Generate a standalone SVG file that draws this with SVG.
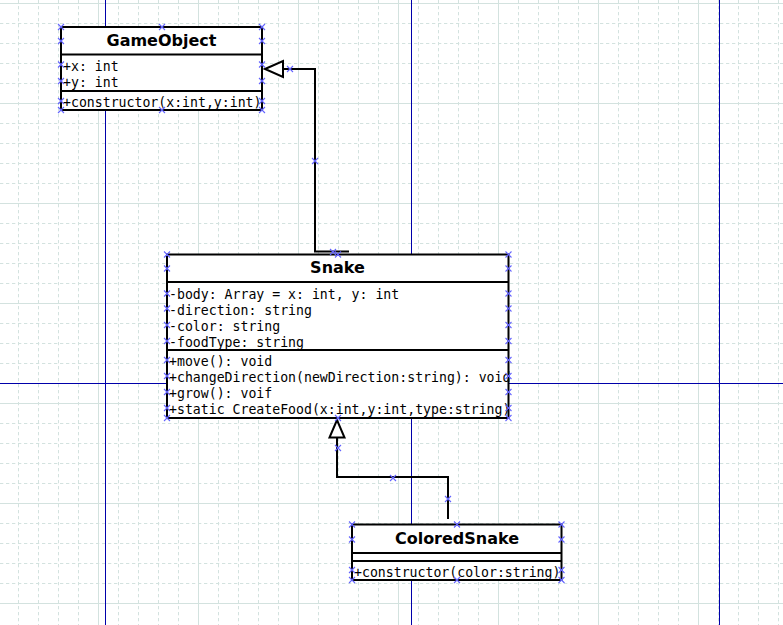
<svg xmlns="http://www.w3.org/2000/svg" xmlns:xlink="http://www.w3.org/1999/xlink" width="783" height="625" viewBox="0 0 783 625">
<style>
.minor{stroke:#d3e2df;stroke-width:1;stroke-dasharray:3.3 2.7;fill:none}
.major{stroke:#d3e2df;stroke-width:1;fill:none}
.axis{stroke:#0000aa;stroke-width:1;fill:none}
.box{fill:#ffffff;stroke:#000000;stroke-width:2}
.sep{stroke:#000000;stroke-width:2;fill:none}
.title{font-family:"DejaVu Sans","Liberation Sans",sans-serif;font-weight:bold;font-size:16px;fill:#000000;text-anchor:middle}
.mem{font-family:"DejaVu Sans Mono","Liberation Mono",monospace;font-size:13.2px;fill:#000000}
.edge{stroke:#000000;stroke-width:2;fill:none}
.head{fill:#ffffff;stroke:#000000;stroke-width:2;stroke-linejoin:miter}
.mk{stroke:#6464ff;stroke-width:1.1;fill:none}
</style>
<defs>
<path id="mk" class="mk" d="M-3,-3L3,3M-3,3L3,-3"/>
</defs>
<rect x="0" y="0" width="783" height="625" fill="#ffffff"/>
<g id="grid">
<path class="minor" d="M18.5,0V625M38.5,0V625M58.5,0V625M78.5,0V625M118.5,0V625M138.5,0V625M158.5,0V625M178.5,0V625M218.5,0V625M238.5,0V625M258.5,0V625M278.5,0V625M318.5,0V625M338.5,0V625M358.5,0V625M378.5,0V625M418.5,0V625M438.5,0V625M458.5,0V625M478.5,0V625M518.5,0V625M538.5,0V625M558.5,0V625M578.5,0V625M618.5,0V625M638.5,0V625M658.5,0V625M678.5,0V625M718.5,0V625M738.5,0V625M758.5,0V625M778.5,0V625"/>
<path class="minor" d="M0,23.5H783M0,43.5H783M0,63.5H783M0,83.5H783M0,123.5H783M0,143.5H783M0,163.5H783M0,183.5H783M0,223.5H783M0,243.5H783M0,263.5H783M0,283.5H783M0,323.5H783M0,343.5H783M0,363.5H783M0,383.5H783M0,423.5H783M0,443.5H783M0,463.5H783M0,483.5H783M0,523.5H783M0,543.5H783M0,563.5H783M0,583.5H783"/>
<path class="major" d="M98.5,0V625M198.5,0V625M298.5,0V625M398.5,0V625M498.5,0V625M598.5,0V625M698.5,0V625M0,3.5H783M0,103.5H783M0,203.5H783M0,303.5H783M0,403.5H783M0,503.5H783M0,603.5H783"/>
<path class="axis" d="M105.5,0V625M411.5,0V625M719.5,0V625M0,383.5H783"/>
</g>
<g id="connectors">
<path class="edge" d="M349,251.5H315V69H283"/>
<path class="head" d="M265,69L283,61L283,77Z"/>
<path class="edge" d="M448,519V477H337V437.5"/>
<path class="head" d="M337,420L329.5,437.5L344.5,437.5Z"/>
</g>
<g id="GameObject">
<rect class="box" x="61" y="27" width="201" height="83"/>
<path class="sep" d="M61,54.5H262M61,91H262"/>
<text class="title" x="161.5" y="46">GameObject</text>
<text class="mem" x="63" y="71">+x: int</text>
<text class="mem" x="63" y="87">+y: int</text>
<text class="mem" x="63" y="107">+constructor(x:int,y:int)</text>
</g>
<g id="Snake">
<rect class="box" x="167" y="254.5" width="341.5" height="163.5"/>
<path class="sep" d="M167,282H508.5M167,350H508.5"/>
<text class="title" x="337.5" y="273">Snake</text>
<text class="mem" x="169" y="298.5">-body: Array = x: int, y: int</text>
<text class="mem" x="169" y="314.5">-direction: string</text>
<text class="mem" x="169" y="330.5">-color: string</text>
<text class="mem" x="169" y="346.5">-foodType: string</text>
<text class="mem" x="169" y="366">+move(): void</text>
<text class="mem" x="169" y="382">+changeDirection(newDirection:string): void</text>
<text class="mem" x="169" y="398">+grow(): voif</text>
<text class="mem" x="169" y="414">+static CreateFood(x:int,y:int,type:string)</text>
</g>
<g id="ColoredSnake">
<rect class="box" x="352" y="524.5" width="209.5" height="55.5"/>
<path class="sep" d="M352,553H561.5M352,561H561.5"/>
<text class="title" x="457" y="544">ColoredSnake</text>
<text class="mem" x="354" y="577">+constructor(color:string)</text>
</g>
<g id="handles">
<use xlink:href="#mk" x="61" y="27"/><use xlink:href="#mk" x="61" y="41"/><use xlink:href="#mk" x="61" y="64.5"/><use xlink:href="#mk" x="61" y="81"/><use xlink:href="#mk" x="61" y="101"/><use xlink:href="#mk" x="61" y="110"/>
<use xlink:href="#mk" x="262" y="27"/><use xlink:href="#mk" x="262" y="41"/><use xlink:href="#mk" x="262" y="64.5"/><use xlink:href="#mk" x="262" y="81"/><use xlink:href="#mk" x="262" y="101"/><use xlink:href="#mk" x="262" y="110"/>
<use xlink:href="#mk" x="162" y="27"/><use xlink:href="#mk" x="162" y="110"/>
<use xlink:href="#mk" x="290" y="69"/><use xlink:href="#mk" x="315" y="161"/><use xlink:href="#mk" x="333" y="252"/><use xlink:href="#mk" x="338" y="254.5"/>
<use xlink:href="#mk" x="167" y="254.5"/><use xlink:href="#mk" x="167" y="268.5"/><use xlink:href="#mk" x="167" y="293.5"/><use xlink:href="#mk" x="167" y="308.5"/><use xlink:href="#mk" x="167" y="325"/><use xlink:href="#mk" x="167" y="341"/><use xlink:href="#mk" x="167" y="360"/><use xlink:href="#mk" x="167" y="376"/><use xlink:href="#mk" x="167" y="392"/><use xlink:href="#mk" x="167" y="408"/><use xlink:href="#mk" x="167" y="418"/>
<use xlink:href="#mk" x="508.5" y="254.5"/><use xlink:href="#mk" x="508.5" y="268.5"/><use xlink:href="#mk" x="508.5" y="293.5"/><use xlink:href="#mk" x="508.5" y="308.5"/><use xlink:href="#mk" x="508.5" y="325"/><use xlink:href="#mk" x="508.5" y="341"/><use xlink:href="#mk" x="508.5" y="360"/><use xlink:href="#mk" x="508.5" y="376"/><use xlink:href="#mk" x="508.5" y="392"/><use xlink:href="#mk" x="508.5" y="408"/><use xlink:href="#mk" x="508.5" y="418"/>
<use xlink:href="#mk" x="338" y="418"/>
<use xlink:href="#mk" x="338" y="448"/><use xlink:href="#mk" x="393" y="478"/><use xlink:href="#mk" x="448" y="499"/>
<use xlink:href="#mk" x="352" y="524.5"/><use xlink:href="#mk" x="352" y="539.5"/><use xlink:href="#mk" x="352" y="570"/><use xlink:href="#mk" x="352" y="580"/>
<use xlink:href="#mk" x="561.5" y="524.5"/><use xlink:href="#mk" x="561.5" y="539.5"/><use xlink:href="#mk" x="561.5" y="570"/><use xlink:href="#mk" x="561.5" y="580"/>
<use xlink:href="#mk" x="457" y="524.5"/><use xlink:href="#mk" x="457" y="580"/>
</g>
</svg>
